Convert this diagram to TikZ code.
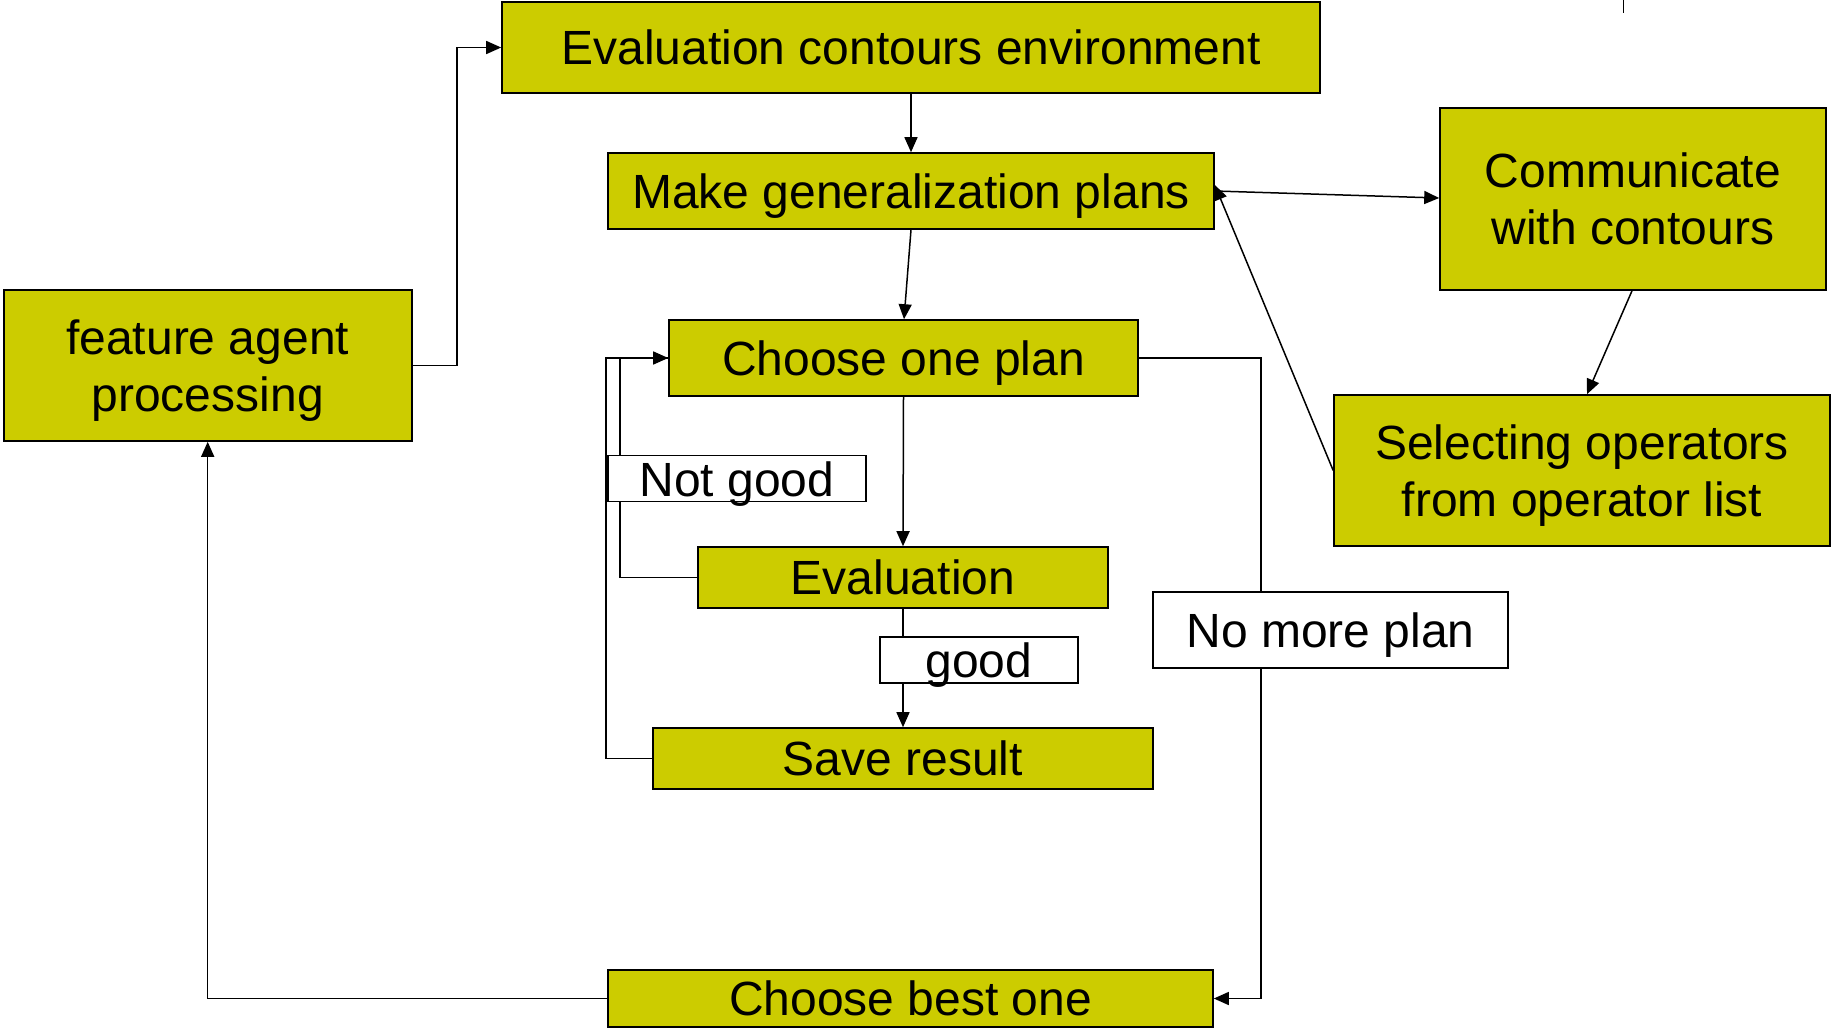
\documentclass[tikz,border=0pt]{standalone}
\usepackage{fontspec}
\setmainfont{Liberation Sans}
\usetikzlibrary{arrows.meta}
\definecolor{boxfill}{RGB}{204,204,0}
\begin{document}
\begin{tikzpicture}[x=1pt,y=-1pt,
  every node/.style={font=\fontsize{48}{57}\selectfont, inner sep=0pt, text depth=-3pt, align=center},
  stepbox/.style={draw=black, line width=1.6pt, fill=boxfill, rectangle},
  tagbox/.style={draw=black, line width=1.4pt, fill=white, rectangle},
  link/.style={line width=1.5pt, -{Triangle[length=15pt,width=13pt]}},
  plainlink/.style={line width=1.5pt}]
\useasboundingbox (0,0) rectangle (1832,1029);

% process boxes
\node[stepbox, minimum width=818pt, minimum height=91pt] (env) at (911,47.5) {Evaluation contours environment};
\node[stepbox, minimum width=606pt, minimum height=76pt] (make) at (911,191) {Make generalization plans};
\node[stepbox, minimum width=386pt, minimum height=182pt] (comm) at (1633,199) {Communicate\\with contours};
\node[stepbox, minimum width=496pt, minimum height=151pt] (sel) at (1582,470.5) {Selecting operators\\from operator list};
\node[stepbox, minimum width=408pt, minimum height=151pt] (feat) at (207.7,365.5) {feature agent\\processing};
\node[stepbox, minimum width=469pt, minimum height=76pt] (choose) at (903.5,358) {Choose one plan};
\node[stepbox, minimum width=410pt, minimum height=61pt] (eval) at (903,577.5) {Evaluation};
\node[stepbox, minimum width=500pt, minimum height=61pt] (save) at (903,758.5) {Save result};
\node[stepbox, minimum width=605pt, minimum height=57pt] (best) at (910.5,998.5) {Choose best one};

% connectors
\draw[link] (feat.east) -- (457,365.5) |- (env.west);
\draw[link] (env.south) -- (make.north);
\draw[link] (make.south) -- ([xshift=-7pt]make.south |- choose.north);
\draw[link] (make.east) -- ([yshift=1pt]comm.west);
\draw[link] ([xshift=-1pt]comm.south) -- ([xshift=5pt]sel.north);
\draw[link] (sel.west) -- ([yshift=6pt]make.east);
\draw[link] (choose.south) -- (eval.north);
\draw[link] (eval.south) -- (save.north);
\draw[link] (eval.west) -- (620,577.5) |- (choose.west);
\draw[plainlink] (save.west) -- (606,758.5) |- (choose.west);
\draw[link] (choose.east) -- (1261,358) |- (best.east);
\draw[link] (best.west) -- (207.7,998.5) -- (feat.south);

% short mark at the top edge
\coordinate (marktop) at (1623.5,0);
\coordinate (markbot) at (1623.5,12.7);
\draw[line width=1.6pt] (marktop) -- (markbot);

% branch labels
\node[tagbox, minimum width=258pt, minimum height=46pt] (notgood) at (737,478.7) {Not good};
\node[tagbox, minimum width=198pt, minimum height=46pt] (good) at (979,660) {good};
\node[tagbox, minimum width=355pt, minimum height=76pt] (nomore) at (1330.5,630) {No more plan};
\end{tikzpicture}
\end{document}
